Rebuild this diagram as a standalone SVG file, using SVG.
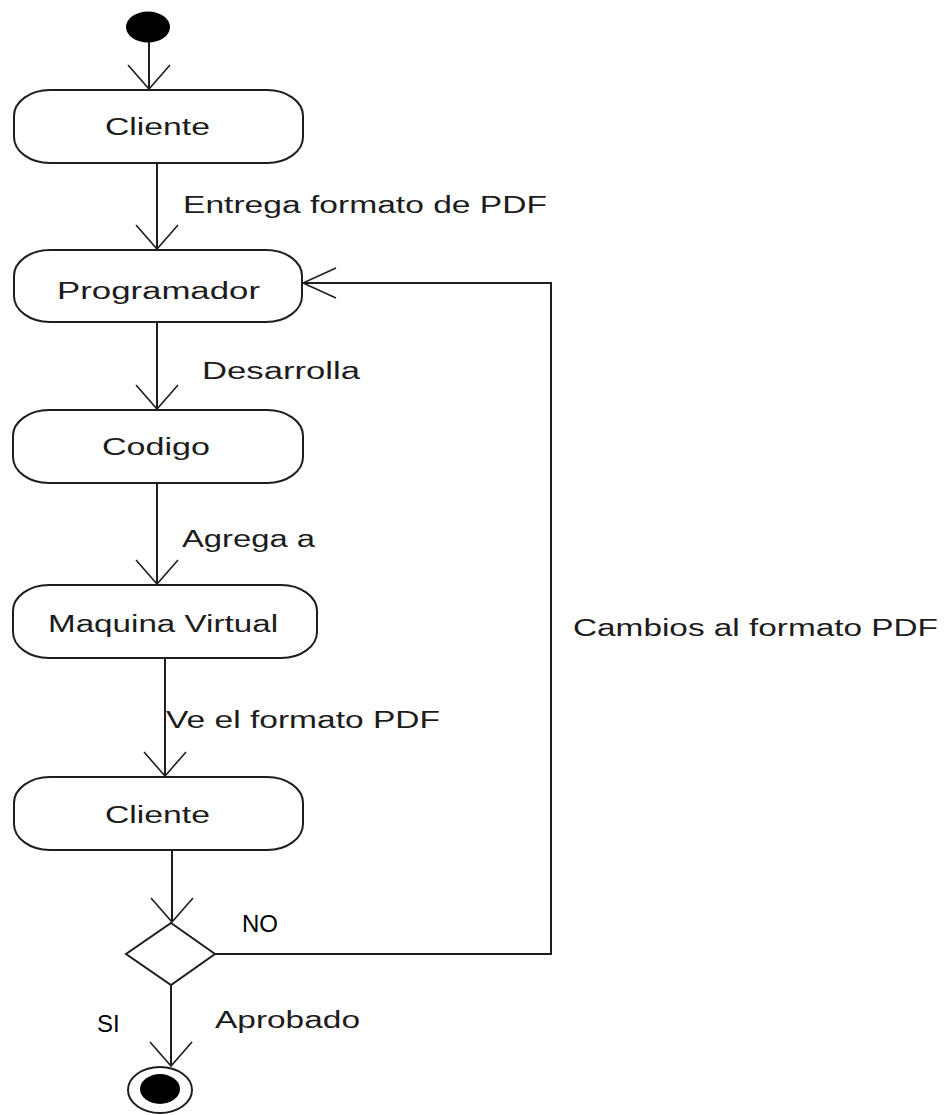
<svg xmlns="http://www.w3.org/2000/svg" width="952" height="1115" viewBox="0 0 952 1115">
  <style>
    .node { fill: #ffffff; stroke: #1e1e1e; stroke-width: 2; }
    .edge { fill: none; stroke: #1e1e1e; stroke-width: 2; }
    .lbl { font-family: "Liberation Sans", Arial, sans-serif; font-size: 23.5px; fill: #1c1c1c; }
    .cond { font-family: "Liberation Sans", Arial, sans-serif; font-size: 24px; fill: #000000; }
  </style>
  <defs>
    <!-- open V arrowheads; vertical and horizontal variants -->
    <marker id="arrowV" markerUnits="userSpaceOnUse" viewBox="-30 -26 34 52" refX="0" refY="0" markerWidth="34" markerHeight="52" orient="auto" overflow="visible">
      <path d="M -24 -21 L 0 0 L -24 21" fill="none" stroke="#1e1e1e" stroke-width="1.6"/>
    </marker>
    <marker id="arrowH" markerUnits="userSpaceOnUse" viewBox="-40 -20 44 40" refX="0" refY="0" markerWidth="44" markerHeight="40" orient="auto" overflow="visible">
      <path d="M -33 -15 L 0 0 L -33 15" fill="none" stroke="#1e1e1e" stroke-width="1.6"/>
    </marker>
  </defs>

  <rect width="952" height="1115" fill="#ffffff"/>

  <g id="connectors">
    <line class="edge" x1="149" y1="42" x2="149" y2="89" marker-end="url(#arrowV)"/>
    <line class="edge" x1="157" y1="163" x2="157" y2="249" marker-end="url(#arrowV)"/>
    <line class="edge" x1="157" y1="322" x2="157" y2="409" marker-end="url(#arrowV)"/>
    <line class="edge" x1="157" y1="483" x2="157" y2="584" marker-end="url(#arrowV)"/>
    <line class="edge" x1="165" y1="658" x2="165" y2="776" marker-end="url(#arrowV)"/>
    <line class="edge" x1="172" y1="850" x2="172" y2="922" marker-end="url(#arrowV)"/>
    <line class="edge" x1="171" y1="985" x2="171" y2="1066" marker-end="url(#arrowV)"/>
    <polyline class="edge" points="215,954 551,954 551,283 303,283" marker-end="url(#arrowH)"/>

    <text class="lbl" x="183" y="213" textLength="364" lengthAdjust="spacingAndGlyphs">Entrega formato de PDF</text>
    <text class="lbl" x="202" y="379" textLength="158" lengthAdjust="spacingAndGlyphs">Desarrolla</text>
    <text class="lbl" x="182" y="547" textLength="133" lengthAdjust="spacingAndGlyphs">Agrega a</text>
    <text class="lbl" x="166" y="728" textLength="274" lengthAdjust="spacingAndGlyphs">Ve el formato PDF</text>
    <text class="lbl" x="573" y="636" textLength="365" lengthAdjust="spacingAndGlyphs">Cambios al formato PDF</text>
    <text class="lbl" x="215" y="1028" textLength="145" lengthAdjust="spacingAndGlyphs">Aprobado</text>
    <text class="cond" x="242" y="932">NO</text>
    <text class="cond" x="97" y="1032">SI</text>
  </g>

  <g id="start">
    <ellipse cx="148" cy="27" rx="22" ry="15.5" fill="#000000"/>
  </g>

  <g id="cliente1">
    <rect class="node" x="14" y="90" width="289" height="73" rx="36" ry="26"/>
    <text class="lbl" x="105" y="135" textLength="105" lengthAdjust="spacingAndGlyphs">Cliente</text>
  </g>

  <g id="programador">
    <rect class="node" x="14" y="250" width="288" height="72" rx="36" ry="26"/>
    <text class="lbl" x="57" y="299" textLength="203" lengthAdjust="spacingAndGlyphs">Programador</text>
  </g>

  <g id="codigo">
    <rect class="node" x="13" y="410" width="290" height="73" rx="36" ry="26"/>
    <text class="lbl" x="102" y="455" textLength="108" lengthAdjust="spacingAndGlyphs">Codigo</text>
  </g>

  <g id="maquina-virtual">
    <rect class="node" x="13" y="585" width="304" height="73" rx="36" ry="26"/>
    <text class="lbl" x="48" y="632" textLength="230" lengthAdjust="spacingAndGlyphs">Maquina Virtual</text>
  </g>

  <g id="cliente2">
    <rect class="node" x="14" y="777" width="289" height="73" rx="36" ry="26"/>
    <text class="lbl" x="105" y="823" textLength="105" lengthAdjust="spacingAndGlyphs">Cliente</text>
  </g>

  <g id="decision">
    <polygon class="node" points="171,923 215,954 171,985 126,954"/>
  </g>

  <g id="end">
    <ellipse cx="160" cy="1090" rx="32" ry="23" fill="#ffffff" stroke="#1e1e1e" stroke-width="2"/>
    <ellipse cx="160" cy="1089" rx="20" ry="15" fill="#000000"/>
  </g>
</svg>
